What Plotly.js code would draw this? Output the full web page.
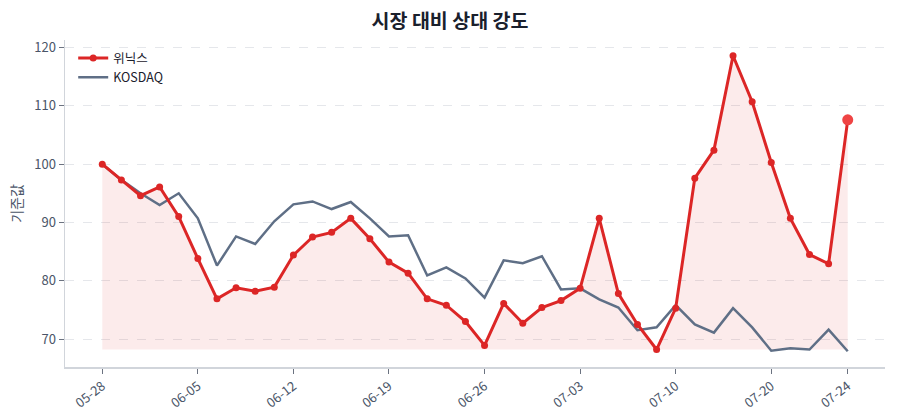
<!DOCTYPE html>
<html>
<head>
<meta charset="utf-8">
<script src="https://cdn.plot.ly/plotly-3.0.1.min.js"></script>
<style>
  html, body { margin: 0; padding: 0; background: #fff; }
  #chart { width: 900px; height: 420px; }
</style>
</head>
<body>
<div id="chart"></div>
<script>
// trading days (categorical axis)
const dates = [
  '05-28','05-29','05-30','06-02','06-04','06-05','06-06','06-09','06-10','06-11',
  '06-12','06-13','06-16','06-17','06-18','06-19','06-20','06-23','06-24','06-25',
  '06-26','06-27','06-30','07-01','07-02','07-03','07-04','07-07','07-08','07-09',
  '07-10','07-11','07-14','07-15','07-16','07-20','07-21','07-22','07-23','07-24'
];
const tickDates = ['05-28','06-05','06-12','06-19','06-26','07-03','07-10','07-20','07-24'];

const winix = [
  100, 97.3, 94.6, 96.1, 91.0, 83.8, 76.9, 78.8, 78.2, 78.9,
  84.4, 87.5, 88.3, 90.7, 87.2, 83.2, 81.3, 76.9, 75.8, 73.0,
  68.9, 76.1, 72.7, 75.4, 76.6, 78.7, 90.7, 77.8, 72.5, 68.2,
  75.3, 97.6, 102.4, 118.6, 110.7, 100.3, 90.7, 84.5, 82.9, 107.6
];
const kosdaq = [
  100, 97.3, 95.0, 93.0, 95.0, 90.7, 82.6, 87.6, 86.3, 90.2,
  93.1, 93.6, 92.3, 93.5, 90.7, 87.6, 87.8, 80.9, 82.3, 80.4,
  77.1, 83.5, 83.0, 84.2, 78.5, 78.7, 76.8, 75.4, 71.5, 72.0,
  75.8, 72.5, 71.1, 75.3, 72.0, 68.0, 68.4, 68.2, 71.6, 67.9
];

const red = '#dc2626';
const slate = '#5f6f86';
const base = Math.min(...winix);

const baseTrace = {
  x: dates, y: dates.map(() => base),
  type: 'scatter', mode: 'lines',
  line: { width: 0 }, hoverinfo: 'skip', showlegend: false
};
const fillTrace = {
  x: dates, y: winix,
  type: 'scatter', mode: 'lines',
  line: { width: 0 }, fill: 'tonexty', fillcolor: 'rgba(220,38,38,0.09)',
  hoverinfo: 'skip', showlegend: false
};
const kosdaqTrace = {
  x: dates, y: kosdaq, name: 'KOSDAQ',
  type: 'scatter', mode: 'lines',
  line: { color: slate, width: 2.5 }
};
const winixTrace = {
  x: dates, y: winix, name: '위닉스',
  type: 'scatter', mode: 'lines+markers',
  line: { color: red, width: 3 },
  marker: { color: red, size: 7 }
};
const lastTrace = {
  x: [dates[dates.length - 1]], y: [winix[winix.length - 1]],
  type: 'scatter', mode: 'markers',
  marker: { color: '#ef4444', size: 11 },
  showlegend: false
};

const layout = {
  width: 900, height: 420,
  paper_bgcolor: '#fff', plot_bgcolor: '#fff',
  font: { family: '"Noto Sans CJK KR", "Noto Sans", sans-serif', color: '#4a5568', size: 12 },
  title: {
    text: '<b>시장 대비 상대 강도</b>',
    font: { size: 19.5, color: '#1a202c' },
    x: 0.5, xanchor: 'center', yref: 'container', y: 0.95, yanchor: 'middle'
  },
  margin: { l: 65, r: 15, t: 40, b: 53 },
  showlegend: true,
  legend: {
    x: 0.01, y: 0.99, xanchor: 'left', yanchor: 'top',
    traceorder: 'reversed',
    bgcolor: 'rgba(255,255,255,0)', font: { size: 12.5, color: '#1a202c' }
  },
  xaxis: {
    type: 'category',
    range: [-1.95, 40.95],
    tickvals: tickDates, ticktext: tickDates,
    tickangle: -38,
    ticks: 'outside', ticklen: 5, tickcolor: '#6b7280',
    tickfont: { size: 13, color: '#4a5568' },
    showgrid: false, zeroline: false,
    showline: true, linecolor: '#d1d5db', linewidth: 1.5
  },
  yaxis: {
    range: [65.2, 121.3],
    tickvals: [70, 80, 90, 100, 110, 120],
    ticks: 'outside', ticklen: 5, tickcolor: '#6b7280',
    tickfont: { size: 13, color: '#4a5568' },
    title: { text: '기준값', font: { size: 14, color: '#4a5568' }, standoff: 8 },
    showgrid: true, gridcolor: '#e5e7eb', griddash: 'dash', gridwidth: 1,
    zeroline: false,
    showline: true, linecolor: '#d1d5db', linewidth: 1.5
  }
};

Plotly.newPlot('chart', [baseTrace, fillTrace, kosdaqTrace, winixTrace, lastTrace], layout, { displayModeBar: false, staticPlot: true });
</script>
</body>
</html>
